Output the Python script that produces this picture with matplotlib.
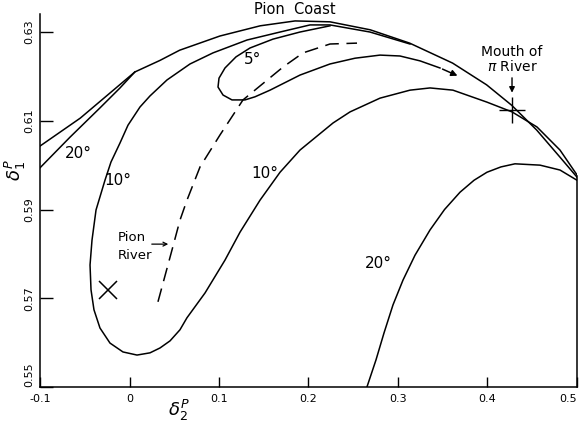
import matplotlib
matplotlib.use('Agg')
from matplotlib import pyplot as plt

plt.rcParams['font.family'] = ['DejaVu Sans']
plt.rcParams['mathtext.fontset'] = 'dejavusans'

# outer envelope ("Pion Coast")
coast_x = [-0.100, -0.055, 0.006, 0.034, 0.056, 0.101, 0.146, 0.185, 0.224, 0.269,
           0.313, 0.361, 0.399, 0.427, 0.455, 0.481, 0.500]
coast_y = [0.6043, 0.6106, 0.6210, 0.6236, 0.6259, 0.6291, 0.6314, 0.6325, 0.6323, 0.6305,
           0.6275, 0.6230, 0.6181, 0.6135, 0.6079, 0.6018, 0.5973]

# 20 deg contour, left piece
c20a_x = [-0.100, -0.0665, -0.033, -0.0106, 0.006]
c20a_y = [0.5994, 0.6063, 0.6129, 0.6174, 0.6210]

# 20 deg contour, right piece
c20b_x = [0.2653, 0.2754, 0.2844, 0.2944, 0.3056, 0.3190, 0.3358, 0.3520, 0.3693,
          0.3850, 0.3994, 0.4150, 0.4307, 0.4587, 0.4810, 0.500]
c20b_y = [0.5500, 0.5561, 0.5622, 0.5685, 0.5741, 0.5797, 0.5854, 0.5900, 0.5939,
          0.5966, 0.5984, 0.5996, 0.6003, 0.6000, 0.5989, 0.5966]

# 10 deg contour
c10_x = [0.3134, 0.2687, 0.2240, 0.2017, 0.1682, 0.1313, 0.0933, 0.0676, 0.0419, 0.0229,
         0.0117, -0.0017, -0.0106, -0.0207, -0.0274, -0.0374, -0.0419, -0.0441, -0.0430,
         -0.0397, -0.0330, -0.0218, -0.0073, 0.0084, 0.0229, 0.0341, 0.0453, 0.0564,
         0.0642, 0.0844, 0.1067, 0.1235, 0.1458, 0.1682, 0.1905, 0.2274, 0.2464, 0.2799,
         0.3134, 0.3358, 0.3614, 0.3994, 0.4274, 0.4553, 0.4810, 0.500]
c10_y = [0.6273, 0.6300, 0.6316, 0.6316, 0.6300, 0.6282, 0.6253, 0.6228, 0.6192, 0.6156,
         0.6131, 0.6090, 0.6050, 0.6007, 0.5966, 0.5899, 0.5831, 0.5775, 0.5719,
         0.5674, 0.5633, 0.5599, 0.5579, 0.5572, 0.5577, 0.5588, 0.5604, 0.5629,
         0.5656, 0.5712, 0.5786, 0.5849, 0.5921, 0.5984, 0.6034, 0.6095, 0.6120, 0.6151,
         0.6169, 0.6174, 0.6169, 0.6142, 0.6120, 0.6086, 0.6034, 0.5978]

# 5 deg contour (ends in the arrow)
c5_x = [0.3469, 0.3246, 0.3022, 0.2799, 0.2520, 0.2240, 0.1905, 0.1570, 0.1402, 0.1290,
        0.1145, 0.1045, 0.0989, 0.1000, 0.1067, 0.1190, 0.1346, 0.1603, 0.1905, 0.2240]
c5_y = [0.6219, 0.6235, 0.6246, 0.6248, 0.6241, 0.6228, 0.6203, 0.6169, 0.6154, 0.6147,
        0.6147, 0.6158, 0.6176, 0.6196, 0.6219, 0.6244, 0.6264, 0.6284, 0.6300, 0.6314]
arrow_tip = (0.3693, 0.6199)

# dashed "Pion River"
river_x = [0.0318, 0.0475, 0.0564, 0.0642, 0.0788, 0.1011, 0.1268, 0.1715, 0.1939, 0.2240, 0.2542]
river_y = [0.5692, 0.5809, 0.5876, 0.5921, 0.5996, 0.6068, 0.6147, 0.6221, 0.6253, 0.6273, 0.6275]

min_pt = (-0.024, 0.5719)
mouth_pt = (0.4274, 0.6124)

xticks = [-0.1, 0, 0.1, 0.2, 0.3, 0.4, 0.5]
xtick_labels = ['-0.1', '0', '0.1', '0.2', '0.3', '0.4', '0.5']
yticks = [0.55, 0.57, 0.59, 0.61, 0.63]
ytick_labels = ['0.55', '0.57', '0.59', '0.61', '0.63']

fig = plt.figure(figsize=(5.84, 4.25), dpi=100)
ax = fig.add_axes([0.0685, 0.0894, 0.9195, 0.877])

lw = 1.1
ax.plot(coast_x, coast_y, color='black', lw=lw)
ax.plot(c20a_x, c20a_y, color='black', lw=lw)
ax.plot(c20b_x, c20b_y, color='black', lw=lw)
ax.plot(c10_x, c10_y, color='black', lw=lw)
ax.plot(c5_x, c5_y, color='black', lw=lw)
ax.annotate('', xy=arrow_tip, xytext=(c5_x[0], c5_y[0]),
            arrowprops=dict(arrowstyle='-|>', color='black', lw=lw, mutation_scale=9))
ax.plot(river_x, river_y, color='black', lw=lw, linestyle=(0, (9, 5)))

ax.plot(*min_pt, marker='x', color='black', markersize=13, mew=1.1)
ax.plot(*mouth_pt, marker='+', color='black', markersize=19, mew=1.0)

ax.text(0.185, 0.6350, 'Pion  Coast', fontsize=10.5, ha='center', va='center')
ax.text(-0.0575, 0.6027, '20°', fontsize=11, ha='center', va='center')
ax.text(-0.0128, 0.5966, '10°', fontsize=11, ha='center', va='center')
ax.text(0.1380, 0.6237, '5°', fontsize=11, ha='center', va='center')
ax.text(0.1514, 0.5982, '10°', fontsize=11, ha='center', va='center')
ax.text(0.2777, 0.5779, '20°', fontsize=11, ha='center', va='center')
ax.text(-0.0128, 0.5838, 'Pion', fontsize=9.5, ha='left', va='center')
ax.text(-0.0128, 0.5797, 'River', fontsize=9.5, ha='left', va='center')
ax.annotate('', xy=(0.0464, 0.5822), xytext=(0.0218, 0.5822),
            arrowprops=dict(arrowstyle='->', color='black', lw=0.9, mutation_scale=7))
ax.text(0.4274, 0.6237, 'Mouth of\n$\\pi$ River', fontsize=10, ha='center', va='center',
        linespacing=1.0)
ax.annotate('', xy=(0.4274, 0.6157), xytext=(0.4274, 0.6203),
            arrowprops=dict(arrowstyle='-|>', color='black', lw=1.0, mutation_scale=8))

ax.set_xlim(-0.1, 0.5)
ax.set_ylim(0.55, 0.634)
ax.set_xticks(xticks)
ax.set_xticklabels(xtick_labels)
ax.set_yticks(yticks)
ax.set_yticklabels(ytick_labels, rotation=90, va='center')
ax.tick_params(axis='both', direction='in', labelsize=8, width=1.0)
ax.tick_params(axis='y', length=9, pad=4)
ax.tick_params(axis='x', length=7, pad=5)
ax.get_yticklabels()[0].set_va('bottom')
ax.get_xticklabels()[-1].set_ha('right')
ax.spines['top'].set_visible(False)
ax.spines['right'].set_bounds(0.55, 0.5975)
for s in ['left', 'bottom', 'right']:
    ax.spines[s].set_linewidth(1.1)

ax.set_xlabel('$\\delta_2^{P}$', fontsize=13, va='center')
ax.xaxis.set_label_coords(0.259, -0.062)
ax.set_ylabel('$\\delta_1^{P}$', fontsize=13, va='center')
ax.yaxis.set_label_coords(-0.045, 0.582)

fig.savefig('out.png', dpi=100)
